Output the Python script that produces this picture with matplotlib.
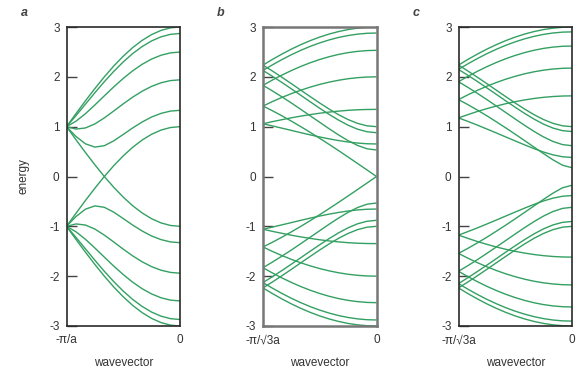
import matplotlib
matplotlib.use("Agg")
import matplotlib.pyplot as plt

plt.rcParams['font.family'] = ['Liberation Sans', 'DejaVu Sans']
plt.rcParams['axes.unicode_minus'] = False

# wavevector samples (fraction of zone edge, -1 = left edge, 0 = zone centre)
k = [-1.0, -0.9167, -0.8333, -0.75, -0.6667, -0.5833, -0.5,
     -0.4167, -0.3333, -0.25, -0.1667, -0.0833, 0.0]

# panel a: positive energy branches (negative branches are their mirror)
bands_a = [
    [1.000, 1.261, 1.518, 1.765, 2.000, 2.218, 2.414, 2.587, 2.732, 2.848, 2.932, 2.983, 3.000],
    [1.000, 1.221, 1.451, 1.681, 1.902, 2.110, 2.300, 2.467, 2.608, 2.721, 2.803, 2.853, 2.870],
    [1.000, 1.109, 1.260, 1.435, 1.618, 1.799, 1.968, 2.121, 2.252, 2.357, 2.434, 2.481, 2.497],
    [1.000, 0.952, 0.974, 1.055, 1.176, 1.315, 1.458, 1.593, 1.712, 1.809, 1.881, 1.925, 1.940],
    [1.000, 0.804, 0.656, 0.590, 0.618, 0.716, 0.844, 0.975, 1.094, 1.194, 1.267, 1.313, 1.328],
    [1.000, 0.739, 0.482, 0.235, 0.000, 0.218, 0.414, 0.587, 0.732, 0.848, 0.932, 0.983, 1.000],
]

# panel b
bands_b = [
    [2.236, 2.350, 2.457, 2.556, 2.646, 2.727, 2.798, 2.859, 2.909, 2.949, 2.977, 2.994, 3.000],
    [2.129, 2.241, 2.346, 2.444, 2.532, 2.612, 2.681, 2.741, 2.791, 2.829, 2.857, 2.874, 2.879],
    [1.830, 1.936, 2.035, 2.126, 2.209, 2.283, 2.348, 2.404, 2.450, 2.486, 2.511, 2.527, 2.532],
    [1.414, 1.504, 1.587, 1.663, 1.732, 1.794, 1.848, 1.894, 1.932, 1.962, 1.983, 1.996, 2.000],
    [1.059, 1.101, 1.140, 1.178, 1.212, 1.242, 1.270, 1.293, 1.312, 1.328, 1.339, 1.345, 1.347],
    [1.059, 1.015, 0.970, 0.925, 0.879, 0.835, 0.793, 0.755, 0.721, 0.692, 0.671, 0.657, 0.653],
    [1.414, 1.319, 1.218, 1.111, 1.000, 0.885, 0.765, 0.643, 0.518, 0.390, 0.261, 0.131, 0.000],
    [1.830, 1.717, 1.598, 1.475, 1.347, 1.217, 1.087, 0.957, 0.833, 0.719, 0.623, 0.556, 0.532],
    [2.129, 2.010, 1.887, 1.759, 1.629, 1.498, 1.369, 1.245, 1.130, 1.029, 0.949, 0.898, 0.879],
    [2.236, 2.116, 1.991, 1.863, 1.732, 1.602, 1.474, 1.352, 1.239, 1.142, 1.066, 1.017, 1.000],
]

# panel c
bands_c = [
    [2.236, 2.350, 2.457, 2.556, 2.646, 2.727, 2.798, 2.859, 2.909, 2.949, 2.977, 2.994, 3.000],
    [2.149, 2.262, 2.367, 2.465, 2.553, 2.633, 2.703, 2.763, 2.813, 2.852, 2.880, 2.897, 2.902],
    [1.902, 2.010, 2.111, 2.204, 2.288, 2.364, 2.430, 2.487, 2.534, 2.571, 2.597, 2.613, 2.618],
    [1.543, 1.640, 1.729, 1.812, 1.886, 1.953, 2.011, 2.061, 2.102, 2.134, 2.157, 2.171, 2.176],
    [1.176, 1.242, 1.305, 1.362, 1.414, 1.461, 1.502, 1.537, 1.566, 1.589, 1.605, 1.615, 1.618],
    [1.176, 1.105, 1.031, 0.953, 0.874, 0.793, 0.713, 0.634, 0.558, 0.490, 0.434, 0.396, 0.382],
    [1.543, 1.441, 1.332, 1.218, 1.098, 0.975, 0.848, 0.719, 0.588, 0.458, 0.333, 0.226, 0.176],
    [1.902, 1.788, 1.668, 1.543, 1.414, 1.284, 1.153, 1.025, 0.903, 0.793, 0.702, 0.640, 0.618],
    [2.149, 2.030, 1.906, 1.778, 1.648, 1.517, 1.389, 1.265, 1.150, 1.050, 0.971, 0.920, 0.902],
    [2.236, 2.116, 1.991, 1.863, 1.732, 1.602, 1.474, 1.352, 1.239, 1.142, 1.066, 1.017, 1.000],
]

panel_letters = ['a', 'b', 'c']
left_labels = ['-\u03c0/a', '-\u03c0/\u221a3a', '-\u03c0/\u221a3a']
right_label = '0'
y_ticks = [-3, -2, -1, 0, 1, 2, 3]
x_title = 'wavevector'
y_title = 'energy'

line_color = '#33a062'
text_color = '#333333'

fig = plt.figure(figsize=(5.88, 3.78), dpi=100)
lefts_px = [66.5, 263.0, 458.5]
spine_colors = ['#2a2a2a', '#777777', '#2a2a2a']
spine_widths = [1.2, 1.8, 1.2]
W, H = 588.0, 378.0
top_px, bot_px, width_px = 27.0, 326.0, 113.5

for i, bands in enumerate([bands_a, bands_b, bands_c]):
    ax = fig.add_axes([lefts_px[i] / W, (H - bot_px) / H, width_px / W, (bot_px - top_px) / H])
    for band in bands:
        ax.plot(k, band, color=line_color, lw=1.0, solid_capstyle='butt')
        ax.plot(k, [-v for v in band], color=line_color, lw=1.0, solid_capstyle='butt')
    ax.set_xlim(-1, 0)
    ax.set_ylim(-3, 3)
    ax.set_yticks(y_ticks)
    ax.set_yticklabels([str(t) for t in y_ticks])
    ax.set_xticks([-1, 0])
    ax.set_xticklabels([left_labels[i], right_label])
    ax.tick_params(axis='y', direction='in', length=7.5, width=1.0, color='#444444',
                   pad=5, labelsize=8.5, labelcolor=text_color)
    ax.tick_params(axis='x', length=0, pad=6, labelsize=8.5, labelcolor=text_color)
    for sp in ax.spines.values():
        sp.set_color(spine_colors[i])
        sp.set_linewidth(spine_widths[i])
    ax.set_xlabel(x_title, fontsize=8.5, color=text_color, labelpad=8)
    if i == 0:
        ax.set_ylabel(y_title, fontsize=8.5, color=text_color, labelpad=14)
    fig.text((lefts_px[i] - 42) / W, 1 - 13 / H, panel_letters[i], fontsize=9,
             style='italic', fontweight='bold', color='#444444', ha='center', va='center')

fig.savefig('out.png', dpi=100)
